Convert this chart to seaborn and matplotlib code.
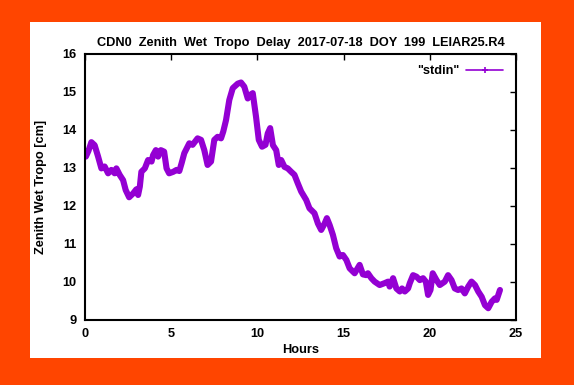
import numpy as np
import pandas as pd
import matplotlib
matplotlib.use("Agg")
import matplotlib.pyplot as plt
from matplotlib.lines import Line2D
from matplotlib.patches import Rectangle
import seaborn as sns

# values
hours = [0.0, 0.05, 0.2, 0.37, 0.56, 0.76, 0.95, 1.14, 1.34, 1.53, 1.72, 1.82,
         2.01, 2.21, 2.36, 2.56, 2.79, 2.98, 3.08, 3.18, 3.27, 3.47, 3.66, 3.86,
         3.95, 4.11, 4.24, 4.4, 4.59, 4.73, 4.88, 5.12, 5.31, 5.47, 5.6, 5.76,
         6.05, 6.24, 6.53, 6.73, 6.92, 7.11, 7.31, 7.5, 7.69, 7.89, 8.02, 8.18,
         8.37, 8.57, 8.86, 9.05, 9.24, 9.44, 9.57, 9.73, 9.92, 10.08, 10.27, 10.47,
         10.6, 10.74, 10.9, 11.09, 11.24, 11.38, 11.57, 11.76, 11.96, 12.15, 12.34,
         12.54, 12.83, 13.02, 13.31, 13.51, 13.7, 13.9, 14.03, 14.19, 14.38, 14.57,
         14.77, 14.96, 15.16, 15.35, 15.64, 15.93, 16.12, 16.32, 16.41, 16.61, 16.8,
         17.09, 17.38, 17.58, 17.67, 17.87, 18.06, 18.26, 18.39, 18.55, 18.74, 18.84,
         19.03, 19.23, 19.42, 19.61, 19.77, 19.9, 20.04, 20.17, 20.39, 20.58, 20.87,
         21.06, 21.26, 21.45, 21.64, 21.84, 22.03, 22.23, 22.42, 22.62, 22.81, 23.01,
         23.2, 23.39, 23.59, 23.78, 23.88, 24.07]
zwd_cm = [13.45, 13.3, 13.45, 13.68, 13.6, 13.3, 12.99, 13.04, 12.86, 12.95, 12.86, 12.99,
          12.82, 12.68, 12.42, 12.23, 12.33, 12.44, 12.29, 12.51, 12.9, 12.99, 13.21, 13.17,
          13.34, 13.47, 13.3, 13.47, 13.43, 12.99, 12.86, 12.9, 12.95, 12.92, 13.12, 13.39,
          13.65, 13.61, 13.78, 13.74, 13.47, 13.08, 13.17, 13.74, 13.82, 13.78, 13.96, 14.26,
          14.79, 15.1, 15.22, 15.25, 15.14, 14.83, 14.92, 14.97, 14.35, 13.74, 13.56, 13.61,
          13.91, 14.05, 13.6, 13.47, 13.08, 13.21, 13.03, 12.99, 12.9, 12.82, 12.6,
          12.38, 12.16, 11.94, 11.81, 11.54, 11.37, 11.54, 11.68, 11.5, 11.24, 10.89,
          10.67, 10.71, 10.58, 10.36, 10.23, 10.45, 10.2, 10.18, 10.23, 10.1, 10.01,
          9.92, 9.97, 10.01, 9.88, 10.1, 9.83, 9.75, 9.83, 9.75, 9.83, 9.97,
          10.18, 10.14, 10.05, 10.1, 10.01, 9.66, 9.79, 10.23, 10.05, 9.92, 10.01,
          10.18, 10.05, 9.83, 9.79, 9.83, 9.7, 9.88, 10.01, 9.92, 9.75, 9.61,
          9.39, 9.31, 9.48, 9.57, 9.53, 9.79]
x_ticks = [0, 5, 10, 15, 20, 25]
y_ticks = [9, 10, 11, 12, 13, 14, 15, 16]
title = "CDN0  Zenith  Wet  Tropo  Delay  2017-07-18  DOY  199  LEIAR25.R4"
series_name = '"stdin"'

df = pd.DataFrame({"Hours": hours, "ZWD": zwd_cm})

sns.set_theme(style="white")
plt.rcParams["font.family"] = ["Liberation Sans", "DejaVu Sans"]
plt.rcParams["font.weight"] = "bold"
plt.rcParams["text.color"] = "black"
plt.rcParams["xtick.color"] = "black"
plt.rcParams["ytick.color"] = "black"

purple = "#9400D3"
W, H = 574, 385
fig = plt.figure(figsize=(W / 100, H / 100), dpi=100, facecolor="#FF4500")

# white panel inside the orange frame
fig.patches.append(Rectangle((30 / W, 27 / H), 511 / W, 336 / H,
                             transform=fig.transFigure, facecolor="white",
                             edgecolor="none", zorder=-5))

ax = fig.add_axes([85 / W, (H - 320) / H, (516 - 85) / W, (320 - 54) / H])
ax.set_facecolor("none")
ax.set_zorder(2)

sns.lineplot(data=df, x="Hours", y="ZWD", ax=ax, color=purple, linewidth=4.4,
             sort=False, legend=False)

ax.set_xlim(0, 25)
ax.set_ylim(9, 16)
ax.set_xticks(x_ticks)
ax.set_yticks(y_ticks)
ax.set_xlabel("")
ax.set_ylabel("")
ax.tick_params(direction="in", length=4, width=1, color="black",
               top=True, right=True, labelsize=9.2, pad=6)
for lab in ax.get_xticklabels() + ax.get_yticklabels():
    lab.set_fontweight("bold")
for sp in ax.spines.values():
    sp.set_visible(True)
    sp.set_color("black")
    sp.set_linewidth(1.5)

handle = Line2D([], [], color=purple, lw=1.2, marker="+", markersize=4,
                markeredgewidth=1.2)
ax.legend([handle], [series_name], loc="upper right", frameon=False,
          markerfirst=False, handlelength=2.9,
          bbox_to_anchor=(1.0, 1.005), borderaxespad=0.6, handletextpad=0.5,
          prop={"weight": "bold", "size": 9.2})

fig.text(301 / W, (H - 43) / H, title, ha="center", va="center",
         fontsize=9.2, fontweight="bold")
fig.text(301 / W, (H - 350) / H, "Hours", ha="center", va="center",
         fontsize=9.2, fontweight="bold")
fig.text(41 / W, (H - 187) / H, "Zenith Wet Tropo [cm]", ha="center",
         va="center", rotation=90, fontsize=9.2, fontweight="bold")

fig.savefig("out.png", dpi=100, facecolor=fig.get_facecolor())
